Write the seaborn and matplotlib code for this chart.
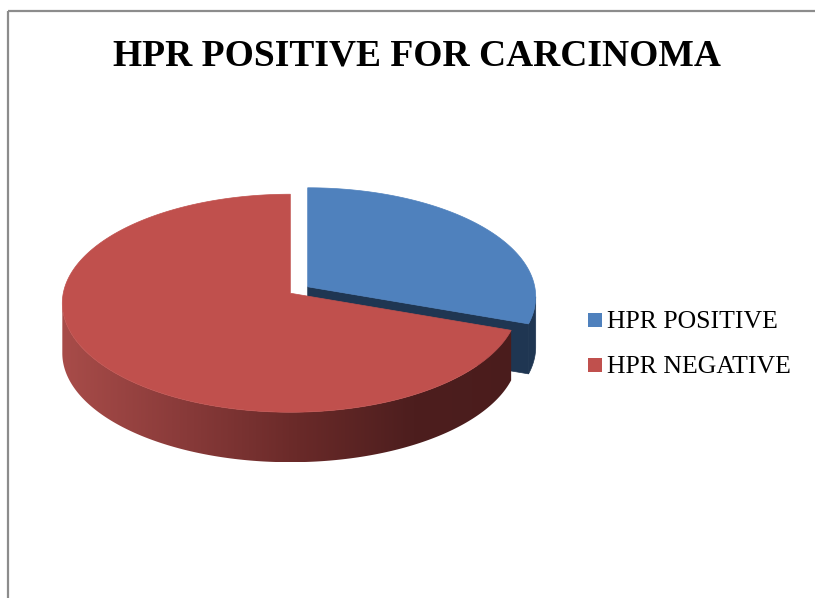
import numpy as np
import matplotlib
matplotlib.use("Agg")
import matplotlib.pyplot as plt
from matplotlib.patches import Polygon, Rectangle
from matplotlib.colors import LinearSegmentedColormap
import seaborn as sns

# ---- data ----
categories = ["HPR POSITIVE", "HPR NEGATIVE"]
values = [29, 71]
title = "HPR POSITIVE FOR CARCINOMA"

top_colors = ["#4F81BD", "#C0504D"]
blue_side = "#1F3652"

sns.set_theme(style="white")
plt.rcParams["font.family"] = ["Liberation Serif", "DejaVu Serif"]

W, H = 815, 598
fig = plt.figure(figsize=(W / 100, H / 100), dpi=100)
ax = fig.add_axes([0, 0, 1, 1])
ax.axis("off")

# frame lines (left & top)
ax.plot([7.5, 7.5], [H, 11], color="#8c8c8c", lw=1.6, solid_capstyle="butt")
ax.plot([7.5, W], [11, 11], color="#8c8c8c", lw=1.6, solid_capstyle="butt")

# ---- pie geometry (pixel space) ----
cx, cy = 299, 290
a, b = 228, 109
yoff = 10
depth = 50
explode = 11

total = float(sum(values))
angles = []
start = 90.0
for v in values:
    end = start - 360.0 * v / total
    angles.append((start, end))
    start = end


def pt(apex, th, dz=0.0):
    t = np.deg2rad(th)
    return (apex[0] + a * np.cos(t), apex[1] + yoff - b * np.sin(t) + dz)


apexes = []
for (s, e) in angles:
    mid = np.deg2rad((s + e) / 2)
    apexes.append((cx + explode * np.cos(mid), cy - explode * np.sin(mid) * b / a))


def side_polygon(apex, th_lo, th_hi):
    lo, hi = max(th_lo, -180), min(th_hi, 0)
    if hi <= lo:
        return None
    ths = np.linspace(lo, hi, 200)
    top = [pt(apex, t) for t in ths]
    bot = [pt(apex, t, depth) for t in ths[::-1]]
    return top + bot


def top_face(ax, apex, s, e, color):
    ths = np.linspace(e, s, 300)
    pts = [apex] + [pt(apex, t) for t in ths]
    ax.add_patch(Polygon(pts, closed=True, facecolor=color, edgecolor=color, lw=0.5))


# blue slice (back)
bs, be = angles[0]
bap = apexes[0]
poly = side_polygon(bap, be, bs)
if poly:
    ax.add_patch(Polygon(poly, closed=True, facecolor=blue_side, edgecolor=blue_side, lw=0.5))
e_top = pt(bap, be)
e_bot = pt(bap, be, depth)
ax.add_patch(Polygon([bap, e_top, e_bot, (bap[0], bap[1] + depth)], closed=True,
                     facecolor=blue_side, edgecolor=blue_side, lw=0.5))
top_face(ax, bap, bs, be, top_colors[0])

# red slice (front): outer wall with horizontal gradient
rs, re_ = angles[1]
rap = apexes[1]
poly = side_polygon(rap, re_, rs)
xs = [p[0] for p in poly]
ys = [p[1] for p in poly]
x0, x1 = min(xs), max(xs)
cmap = LinearSegmentedColormap.from_list(
    "redside", ["#A84C49", "#8A3B3A", "#6A2A29", "#4D1E1E", "#4A1C1C"])
grad = np.linspace(0, 1, 512)[None, :]
edge = Polygon(poly, closed=True, facecolor="none", edgecolor="none")
ax.add_patch(edge)
im = ax.imshow(grad, cmap=cmap, aspect="auto", interpolation="bilinear",
               extent=[x0, x1 + 20, max(ys), min(ys)], zorder=1)
im.set_clip_path(edge)
top_face(ax, rap, rs, re_, top_colors[1])

ax.set_xlim(0, W)
ax.set_ylim(H, 0)

# ---- title ----
ax.text(416.5, 65, title, ha="center", va="baseline", fontsize=27,
        fontweight="bold", color="black", zorder=5)

# ---- legend ----
leg_y = [328, 373]
for lab, col, yb in zip(categories, top_colors, leg_y):
    ax.add_patch(Rectangle((588, yb - 15), 14, 14, facecolor=col, edgecolor="none"))
    ax.text(607, yb, lab, ha="left", va="baseline", fontsize=18.5, color="black")

fig.savefig("out.png", dpi=100)
